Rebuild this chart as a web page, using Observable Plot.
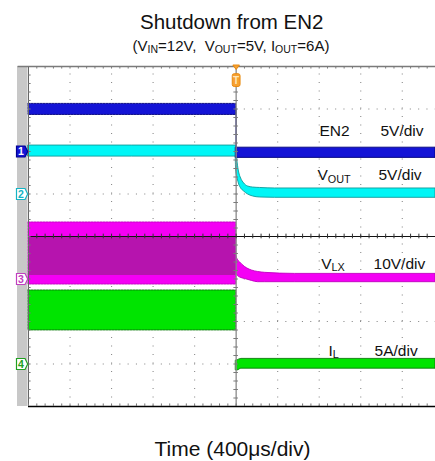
<!DOCTYPE html>
<html><head><meta charset="utf-8">
<script src="https://cdn.jsdelivr.net/npm/d3@7"></script>
<script src="https://cdn.jsdelivr.net/npm/@observablehq/plot@0.6"></script>
<style>
html,body{margin:0;padding:0;background:#fff;}
body{width:435px;height:461px;overflow:hidden;font-family:"Liberation Sans",Arial,sans-serif;}
</style></head><body><div id="chart"></div>
<script>
// ---------------- data ----------------
const titleText = "Shutdown from EN2";
const subtitleText = "(V{IN}=12V,  V{OUT}=5V, I{OUT}=6A)";
const xLabelText = "Time (400μs/div)";

const channels = ["EN2", "VOUT", "VLX", "IL"];
const channelNames = ["EN2", "V{OUT}", "V{LX}", "I{L}"];
const channelNumbers = ["1", "2", "3", "4"];
const channelScaleText = ["5V/div", "5V/div", "10V/div", "5A/div"];
const channelScale = [5, 5, 10, 5];        // units per division
const channelOffset = [2, 1, -1, -3];      // ground level, divisions

// time in µs, values in V or A (upper / lower edge of the noisy trace)
const en2PreT = [-2000, 0];
const en2PreHi = [5.6, 5.6];
const en2PreLo = [4.3, 4.3];
const en2PostT = [0, 1920];
const en2PostHi = [0.45, 0.45];
const en2PostLo = [-0.75, -0.75];

const voutT  = [-2000, -5, 0, 14, 29, 48, 77, 115, 163, 231, 375, 1920];
const voutHi = [5.7, 5.7, 5.65, 3.7, 2.53, 1.82, 1.24, 0.88, 0.76, 0.71, 0.65, 0.65];
const voutLo = [4.4, 4.4, 2.76, 1.82, 1.12, 0.65, 0.29, -0.06, -0.29, -0.41, -0.45, -0.45];

const vlxPreT = [-2000, 0];
const vlxPreHi = [13.3, 13.3];
const vlxPreLo = [-1.3, -1.3];
const vlxCoreHi = [9.8, 9.8];
const vlxCoreLo = [0.8, 0.8];
const vlxPostT  = [0, 14, 38, 87, 151, 212, 279, 567, 1920];
const vlxPostHi = [5.5, 4.6, 3.9, 2.8, 2.0, 1.65, 1.45, 1.2, 1.2];
const vlxPostLo = [1.5, 0.8, 0.35, 0, -0.45, -0.75, -0.75, -0.75, -0.75];

const ilPreT = [-2000, 0];
const ilPreHi = [8.65, 8.65];
const ilPreLo = [3.95, 3.95];
const ilPostT  = [0, 15, 50, 1920];
const ilPostHi = [0.4, 0.45, 0.6, 0.6];
const ilPostLo = [-0.75, -0.75, -0.55, -0.55];

const timeDomain = [-2000, 1920];
const divDomain = [-4, 4];
const majorT = [-1600, -1200, -800, -400, 400, 800, 1200, 1600];
const majorY = [-3, -2, -1, 1, 2, 3];

// ---------------- helpers ----------------
function band(ch, t, hi, lo) {
  const k = channels.indexOf(ch);
  const off = channelOffset[k], sc = channelScale[k];
  return t.map((ti, i) => ({t: ti, hi: off + hi[i] / sc, lo: off + lo[i] / sc}));
}
const minorT = d3.range(timeDomain[0], timeDomain[1] + 1, 80);
const minorY = d3.range(-20, 21).map(d => d / 5);

const col = {
  en2: "#1414d6", en2e: "#00007a",
  vout: "#00f6f6", voute: "#109a9a",
  vlx: "#f400f4", vlxe: "#c000c0", vlxc: "#a8189f",
  il: "#00e400", ile: "#0a7a0a"
};
const chFill = [col.en2, "#ffffff", "#ffffff", "#ffffff"];
const chStroke = ["#000090", "#14b4c4", "#c040c0", "#20a020"];
const chText = ["#ffffff", "#14b4c4", "#c040c0", "#20a020"];

const chMarker = {draw(c) {
  c.moveTo(-12, -5.5); c.lineTo(-3.5, -5.5); c.lineTo(-0.8, 0); c.lineTo(-3.5, 5.5); c.lineTo(-12, 5.5); c.closePath();
}};
const trigSym = {draw(c) {
  c.moveTo(-3.3, -1.5); c.lineTo(3.3, -1.5); c.lineTo(0, 3); c.closePath();
  const x0 = -3.9, x1 = 3.9, y0 = 7.2, y1 = 20, r = 2;
  c.moveTo(x0 + r, y0); c.lineTo(x1 - r, y0); c.arcTo(x1, y0, x1, y0 + r, r);
  c.lineTo(x1, y1 - r); c.arcTo(x1, y1, x1 - r, y1, r);
  c.lineTo(x0 + r, y1); c.arcTo(x0, y1, x0, y1 - r, r);
  c.lineTo(x0, y0 + r); c.arcTo(x0, y0, x0 + r, y0, r); c.closePath();
}};

const labelLayout = [
  {x: 803, sx: 1390, dy: 0.353},
  {x: 783, sx: 1371, dy: 0.318},
  {x: 819, sx: 1323, dy: 0.247},
  {x: 889, sx: 1333, dy: 0.2}
];

const area = (rows, fill, stroke, extra = {}) =>
  Plot.areaY(rows, {x: "t", y1: "lo", y2: "hi", fill, stroke, strokeWidth: 0.9, curve: "monotone-x", ...extra});

const plot = Plot.plot({
  width: 435, height: 461,
  marginLeft: 28, marginRight: 0, marginTop: 66, marginBottom: 55,
  x: {domain: timeDomain, axis: null},
  y: {domain: divDomain, axis: null},
  color: {type: "identity"},
  style: {fontFamily: "'Liberation Sans', Arial, sans-serif", background: "white"},
  marks: [
    // dotted grid
    Plot.ruleX(majorT, {y1: -4, y2: 4, stroke: "#8c8c8c", strokeWidth: 1.1, strokeDasharray: "1.1,7.4"}),
    Plot.ruleY(majorY, {x1: timeDomain[0], x2: timeDomain[1], stroke: "#8c8c8c", strokeWidth: 1.1, strokeDasharray: "1.1,7.2"}),
    // traces
    area(band("VLX", vlxPreT, vlxPreHi, vlxPreLo), col.vlx, col.vlxe, {strokeDasharray: "2,1"}),
    area(band("VLX", vlxPreT, vlxCoreHi, vlxCoreLo), col.vlxc, "none", {fillOpacity: 0.82}),
    area(band("VLX", vlxPostT, vlxPostHi, vlxPostLo), col.vlx, col.vlxe),
    area(band("IL", ilPreT, ilPreHi, ilPreLo), col.il, col.ile, {strokeDasharray: "2,1"}),
    area(band("IL", ilPostT, ilPostHi, ilPostLo), col.il, col.ile),
    area(band("VOUT", voutT, voutHi, voutLo), col.vout, col.voute),
    area(band("EN2", en2PreT, en2PreHi, en2PreLo), col.en2, col.en2e, {strokeDasharray: "2,1"}),
    area(band("EN2", en2PostT, en2PostHi, en2PostLo), col.en2, col.en2e),
    Plot.ruleX([0], {y1: channelOffset[0] + 5 / channelScale[0], y2: channelOffset[0], stroke: col.en2e, strokeWidth: 1.3}),
    // centre lines with minor ticks
    Plot.ruleX([0], {y1: -4, y2: 4, stroke: "#8a8a8a", strokeWidth: 1.3}),
    Plot.ruleY(minorY, {x1: -22, x2: 22, stroke: "#7a7a7a", strokeWidth: 1}),
    Plot.ruleY([0], {x1: timeDomain[0], x2: timeDomain[1], stroke: "#111", strokeWidth: 1.1}),
    Plot.ruleX(minorT, {y1: -0.055, y2: 0.055, stroke: "#333", strokeWidth: 1}),
    // borders
    Plot.ruleY([4], {x1: timeDomain[0] - 100, x2: timeDomain[1], stroke: "#7a7a7a", strokeWidth: 1.3}),
    Plot.ruleX(minorT, {y1: 4, y2: 3.94, stroke: "#7a7a7a", strokeWidth: 1}),
    Plot.ruleX([timeDomain[0]], {y1: -4, y2: 4, stroke: "#666", strokeWidth: 1}),
    Plot.ruleY(minorY, {x1: timeDomain[0], x2: timeDomain[0] + 25, stroke: "#777", strokeWidth: 1}),
    Plot.ruleY([-4], {x1: timeDomain[0], x2: timeDomain[1], stroke: "#000", strokeWidth: 1.6}),
    Plot.ruleX(minorT, {y1: -4, y2: -3.94, stroke: "#777", strokeWidth: 1}),
    // channel labels
    Plot.text(channelNames, {x: (d, i) => labelLayout[i].x, y: (d, i) => channelOffset[i] + labelLayout[i].dy,
      text: d => d, textAnchor: "start", lineAnchor: "bottom", fontSize: 15.5, fill: "#111"}),
    Plot.text(channelScaleText, {x: (d, i) => labelLayout[i].sx, y: (d, i) => channelOffset[i] + labelLayout[i].dy,
      text: d => d, textAnchor: "start", lineAnchor: "bottom", fontSize: 15.5, fill: "#111"}),
    // channel markers
    Plot.dot(channelNumbers, {x: timeDomain[0], y: (d, i) => channelOffset[i], symbol: chMarker, r: 5,
      fill: (d, i) => chFill[i], stroke: (d, i) => chStroke[i], strokeWidth: 1.2}),
    Plot.text(channelNumbers, {x: timeDomain[0], y: (d, i) => channelOffset[i], dx: -7.7, dy: 0.5, text: d => d,
      fill: (d, i) => chText[i], fontSize: 10.5, fontWeight: "bold"}),
    // trigger marker
    Plot.dot([0], {x: d => d, y: 4, symbol: trigSym, r: 5, fill: "#f7a030", stroke: "#e88a10", strokeWidth: 1}),
    Plot.text(["T"], {x: 0, y: 4, dy: 13.8, text: d => d, fill: "#ffe6b8", fontSize: 10, fontWeight: "bold"}),
    // titles
    Plot.text([titleText], {frameAnchor: "top", dy: -37.7, dx: -0.3, lineAnchor: "bottom", text: d => d, fontSize: 20.5, fill: "#111"}),
    Plot.text([subtitleText], {frameAnchor: "top", dy: -16, dx: -1, lineAnchor: "bottom", text: d => d, fontSize: 15, fill: "#111"}),
    Plot.text([xLabelText], {frameAnchor: "bottom", dy: 49, dx: 0.5, lineAnchor: "bottom", text: d => d, fontSize: 21, fill: "#111"})
  ]
});

// subscripts
d3.select(plot).selectAll("text").each(function () {
  const s = this.textContent;
  if (!s.includes("{")) return;
  const parts = s.split(/(\{[^}]*\})/).filter(p => p.length);
  this.textContent = "";
  let sub = false;
  for (const p of parts) {
    const t = document.createElementNS("http://www.w3.org/2000/svg", "tspan");
    if (p.startsWith("{")) {
      t.textContent = p.slice(1, -1);
      t.setAttribute("font-size", "0.7em");
      t.setAttribute("dy", "0.26em");
      sub = true;
    } else {
      t.textContent = p;
      if (sub) t.setAttribute("dy", "-0.182em");
      sub = false;
    }
    this.appendChild(t);
  }
});

// grey strip at the left of the screen
const xs = plot.scale("x"), ys = plot.scale("y");
const x0 = xs.apply(timeDomain[0]);
const yTop = ys.apply(divDomain[1]), yBot = ys.apply(divDomain[0]);
const strip = document.createElementNS("http://www.w3.org/2000/svg", "rect");
strip.setAttribute("x", x0 - 11); strip.setAttribute("width", 10.5);
strip.setAttribute("y", yTop); strip.setAttribute("height", yBot - yTop);
strip.setAttribute("fill", "#c8c8c8");
const firstG = plot.querySelector("g");
plot.insertBefore(strip, firstG);

document.getElementById("chart").appendChild(plot);
</script></body></html>
